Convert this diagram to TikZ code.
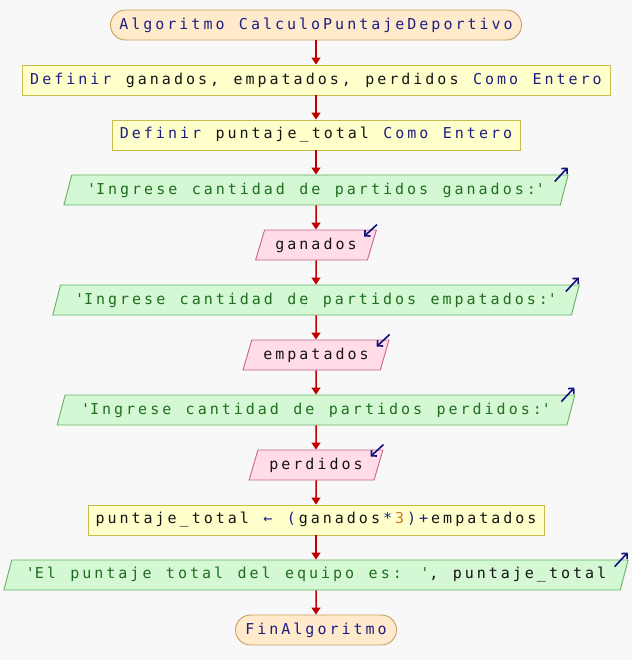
\documentclass[tikz,border=0pt]{standalone}
\usepackage{fontspec}
\usetikzlibrary{shapes.geometric,arrows.meta}
\newfontfamily\psfont{DejaVu Sans Mono}[LetterSpace=20,WordSpace={1.2,0,0}]

\definecolor{fondo}{HTML}{F8F8F8}
\definecolor{flujo}{HTML}{C00000}
\definecolor{marino}{HTML}{10107A}
\definecolor{clave}{HTML}{1E1E82}
\definecolor{cadena}{HTML}{1E6E1E}
\definecolor{numero}{HTML}{C87828}
\definecolor{variable}{HTML}{141414}

\newcommand{\kw}[1]{\textcolor{clave}{#1}}
\newcommand{\cad}[1]{\textcolor{cadena}{#1}}
\newcommand{\nro}[1]{\textcolor{numero}{#1}}
\newcommand{\q}{\textquotesingle}
\newcommand{\ls}{\kern3pt}

\tikzset{
  bloque/.style={minimum height=30pt, inner xsep=2pt, inner ysep=2pt, line width=0.9pt,
    text=variable, font=\psfont\fontsize{15pt}{18pt}\selectfont},
  terminal/.style={bloque, rectangle, rounded corners=15pt, draw=termborde, fill=termfondo},
  definir/.style={bloque, rectangle, draw=defborde, fill=deffondo},
  es/.style={bloque, trapezium, trapezium left angle=68.2, trapezium right angle=111.8,
    trapezium stretches=true},
  salida/.style={es, draw=salborde, fill=salfondo},
  entrada/.style={es, draw=entborde, fill=entfondo},
  flecha/.style={flujo, line width=1.5pt, -{Triangle[length=7pt,width=9pt]}},
  escribe/.style={marino, line width=1.6pt, -{Straight Barb[length=4pt,width=8pt]}},
}
\definecolor{termfondo}{HTML}{FFEACC}
\definecolor{termborde}{HTML}{C8A064}
\definecolor{deffondo}{HTML}{FFFFCC}
\definecolor{defborde}{HTML}{C8BE50}
\definecolor{salfondo}{HTML}{D4F7D4}
\definecolor{salborde}{HTML}{64B464}
\definecolor{entfondo}{HTML}{FFDCE8}
\definecolor{entborde}{HTML}{C8648C}

\begin{document}
\begin{tikzpicture}[x=1pt, y=-1pt]
  % Fondo
  \fill[fondo] (0,0) rectangle (632,660);
  \useasboundingbox (0,0) rectangle (632,660);

  % Bloques
  \node[terminal, minimum width=411pt] (ini) at (316,25) {\kw{Algoritmo CalculoPuntajeDeportivo}};
  \node[definir, minimum width=588pt] (def1) at (316,80) {\kw{Definir} ganados, empatados, perdidos \kw{Como Entero}};
  \node[definir, minimum width=408pt] (def2) at (316,135) {\kw{Definir} puntaje\_total \kw{Como Entero}};
  \node[salida, minimum width=506pt] (sal1) at (316,190) {\cad{\q Ingrese cantidad de partidos ganados:\q}};
  \node[entrada, minimum width=122pt] (gan) at (316,245) {ganados};
  \node[salida, minimum width=530pt] (sal2) at (316,300) {\cad{\q Ingrese cantidad de partidos empatados:\q}};
  \node[entrada, minimum width=146pt] (emp) at (316,355) {empatados};
  \node[salida, minimum width=518pt] (sal3) at (316,410) {\cad{\q Ingrese cantidad de partidos perdidos:\q}};
  \node[entrada, minimum width=134pt] (per) at (316,465) {perdidos};
  \node[definir, minimum width=456pt] (asig) at (316,520) {puntaje\_total \kw{← (\ls}ganados\ls\kw{*\ls}\nro{3\ls}\kw{)+\ls}empatados};
  \node[salida, minimum width=626pt] (sal4) at (316,575) {\cad{\q El puntaje total del equipo es: \q}, puntaje\_total};
  \node[terminal, minimum width=161pt] (fin) at (316,630) {\kw{FinAlgoritmo}};

  % Flujo
  \foreach \a/\b in {ini/def1, def1/def2, def2/sal1, sal1/gan, gan/sal2, sal2/emp,
                     emp/sal3, sal3/per, per/asig, asig/sal4, sal4/fin}
    \draw[flecha] (\a) -- (\b);

  % Marcas de escritura y lectura
  \foreach \s in {sal1, sal2, sal3, sal4}
    \draw[escribe] ([shift={(-14,7)}]\s.top right corner) -- ++(13,-14);
  \foreach \e in {gan, emp, per}
    \draw[escribe] ([shift={(0,-5)}]\e.top right corner) -- ++(-13,12);
\end{tikzpicture}
\end{document}
